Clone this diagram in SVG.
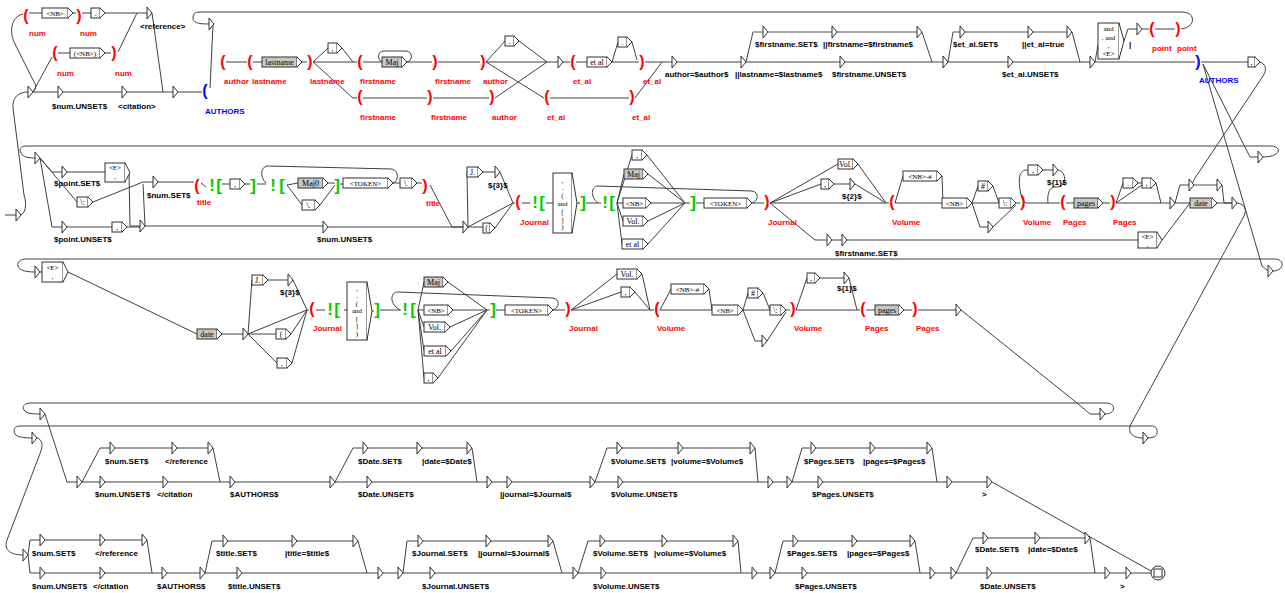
<svg xmlns="http://www.w3.org/2000/svg" width="1285" height="593" viewBox="0 0 1285 593">
<style>
.c{fill:none;stroke:#404040;stroke-width:1}
.cg{fill:none;stroke:#8c8c8c;stroke-width:1.5}
.b{fill:#fff;stroke:#303030;stroke-width:1}
.bg{fill:#c8c8c8;stroke:#303030;stroke-width:1}
.bt{font-family:"Liberation Serif",serif;font-size:8px;fill:#000;text-anchor:middle}
.bs{font-family:"Liberation Serif",serif;font-size:7px;fill:#000;text-anchor:middle}
.o{font-family:"Liberation Sans",Arial,sans-serif;font-size:8px;font-weight:bold;fill:#000}
.r{font-family:"Liberation Sans",Arial,sans-serif;font-size:8px;font-weight:bold;fill:#f00}
.u{font-family:"Liberation Sans",Arial,sans-serif;font-size:8px;font-weight:bold;fill:#0000ff}
.p{font-family:"Liberation Sans",Arial,sans-serif;font-size:16px;font-weight:bold;fill:#f00;text-anchor:middle}
.pu{font-family:"Liberation Sans",Arial,sans-serif;font-size:16px;font-weight:bold;fill:#0000ff;text-anchor:middle}
.gn{font-family:"Liberation Sans",Arial,sans-serif;font-size:17px;font-weight:bold;fill:#00cc00;text-anchor:middle}
</style>
<defs>
<path id="tri" d="M0,-6V6L5,0Z" fill="#fff" stroke="#303030" stroke-width="1"/>
</defs>
<rect width="1285" height="593" fill="#fff"/>
<g id="connectors">
<path class="c" d="M5,215H16 M21,215C27,212 26,200 24,195L13,108C12,98 18,92 28,92 M33,92C37,88 36,84 33,80L14,42C10,33 10,17 23,14 M33,92L52,57 M29,13H42 M73,13H76 M82,13H91 M105,13H147 M58,53H70 M105,53H111 M118,52L137,13 M152,13L163,92 M33,92H58 M63,92H122 M127,92H173 M178,92H202 M213,24L210,88 M226,62H247 M253,62H262 M302,62H307 M313,62L328,48 M313,62H357 M313,62L353,98H357 M342,48L353,62 M363,62H382 M407,62H432 M407,62C413,61 413,51 406,51H384C377,51 377,60 382,62 M363,98H427 M438,62H480 M433,98H489 M486,62L505,41 M486,62H558 M486,62L544,98 M519,41L547,62 M495,98L547,62 M563,62H570 M576,62H587 M612,62L618,42 M612,62H639 M632,42L637,60 M550,98H629 M635,98L662,62 M645,62H672 M677,62H741 M746,62L753,32 M922,32L932,62 M746,62H840 M845,62H943 M948,62L953,32 M1072,32L1080,62 M948,62H1008 M1013,62H1090 M1095,62L1098,45 M1124,41L1128,29H1137 M1142,29H1149 M1155,29H1175 M1181,29C1190,28 1194,22 1192,17C1190,13 1186,12 1180,12H200C194,12 193,15 193,18C193,22 196,24 209,24 M1095,62H1195 M1201,62H1248 M1203,64L1250,157H1258 M1203,64L1262,266L1268,271 M1260,62C1266,64 1267,70 1263,76L1195,178C1193,182 1192,185 1189,185"/>
<path class="cg" d="M753,32H763 M768,32H832 M837,32H917 M953,32H960 M965,32H1028 M1033,32H1067 M1194,185H1217"/>
<path class="c" d="M1263,157C1275,157 1280,152 1278,149C1276,146 1272,146 1268,146H26C20,146 19,150 21,153C23,157 28,158 35,158 M40,158L52,172H62 M40,158L77,202 M40,158L52,227H62 M67,172H105 M67,227H112 M129,172L130,226H140 M127,227H140 M93,202L143,182H153 M145,226L143,184 M145,226H323 M158,182H194 M201,183L206,187 M222,184H230 M245,184H250 M257,184H266 M287,185L298,183 M287,185L302,205 M328,183H335 M320,205L335,185 M340,184H343 M393,183H400 M393,183C399,181 399,171 392,169L268,166C261,166 259,176 266,183 M417,183H422 M430,185L452,227H463 M328,227H463 M468,227L467,172 M483,172H495 M500,172L513,203 M468,227L513,203 M468,227H483 M495,228L513,203 M513,203H515 M522,203H530 M546,203H553 M577,203H580 M586,203H601 M752,203C759,201 759,192 752,191L598,186C591,186 590,197 598,203 M617,203L632,155 M617,203L624,174 M617,203H623 M617,203L623,221 M617,203L622,244 M647,155L685,203 M648,174L685,203 M651,203H690 M648,221L685,203 M648,244L685,203 M696,203H704 M752,203H764 M770,203L838,164 M770,203L821,184 M770,203H889 M770,203L815,240H827 M858,164L886,203 M834,184H850 M855,184L886,203 M832,240H842 M847,240H1138 M895,203L903,176 M895,203H942 M942,176L943,203 M972,203L978,186 M972,203H999 M972,203L980,227H988 M993,186L999,203 M993,227L1016,205 M1016,203H1020 M1026,203H1060 M1026,203C1020,200 1018,180 1020,175C1022,170 1025,170 1028,170 M1043,170H1053 M1058,170C1068,172 1066,188 1056,187C1049,186 1047,195 1048,203 M1066,203H1074 M1103,203H1110 M1116,203L1123,183 M1116,203L1142,185 M1116,203H1170 M1138,183H1142 M1156,183L1161,203 M1175,203L1180,185H1189 M1222,185L1224,203H1232 M1175,203H1190 M1162,240L1190,203 M1217,203H1232 M1237,203C1245,204 1247,210 1244,216L1131,424C1127,432 1132,438 1143,438"/>
<path class="c" d="M1273,271C1280,271 1283,266 1282,263C1280,259 1277,259 1272,259H27C20,259 17,262 18,266C19,270 25,272 35,272 M40,272H42 M68,272L197,334 M222,334H243 M248,334L252,280 M268,280H288 M293,280L307,310 M248,334L307,310 M248,334H276 M291,334L307,310 M248,334L277,363 M292,363L307,310 M307,310H309 M316,310H325 M344,310H347 M372,311H374 M380,310H401 M553,310C560,308 560,299 553,298L398,292C390,292 389,304 400,310 M418,310L424,282 M418,310H424 M418,310L424,327 M418,310L424,351 M418,310L424,378 M448,282L487,310 M453,310H490 M450,327L487,310 M451,351L487,310 M438,378L487,310 M496,310H505 M553,310H565 M571,310L617,274 M571,310L621,292 M571,310H654 M642,274L650,310 M635,292L650,310 M660,310L671,289 M660,310H712 M709,289L712,310 M743,310L748,293 M743,310H770 M743,310L755,341H762 M763,293L770,310 M767,341L786,312 M786,310H790 M796,310L807,278 M796,310H860 M820,278H844 M849,278L857,310 M866,310H875 M904,310H912 M918,310H956 M961,310L1077,403L1090,414H1100"/>
<path class="c" d="M1105,414C1112,414 1115,410 1113,406C1111,403 1108,403 1104,403H30C24,403 22,407 24,410C26,413 30,414 40,414 M45,414L67,482H77 M1148,438C1156,438 1158,434 1157,430C1156,426 1153,426 1150,426H20C14,426 13,430 15,434C17,437 24,438 32,438 M37,438C42,439 43,445 41,451L7,540C4,548 8,555 23,555 M82,482L100,448H110 M115,448H172 M177,448H208 M213,448L220,482 M82,482H100 M105,482H163 M168,482H230 M235,482H330 M335,482L353,448H363 M368,448H417 M422,448H467 M472,448L477,482 M335,482H367 M372,482H487 M492,482H507 M512,482H590 M595,482L607,448H617 M622,448H678 M683,448H750 M755,448L758,482 M595,482H618 M623,482H768 M773,482H787 M792,482L802,448H811 M816,448H870 M875,448H927 M932,448L937,482 M792,482H818 M823,482H947 M952,482H987 M992,482L1151,571 M28,555L30,540H40 M45,540H100 M105,540H142 M147,540L152,573 M28,555L30,573H40 M45,573H100 M105,573H162 M167,573H200 M205,573L212,541H223 M228,541H292 M297,541H353 M358,541L367,573 M205,573H237 M242,573H378 M383,573H398 M403,573L407,541H418 M423,541H486 M491,541H548 M553,541L562,573 M403,573H430 M435,573H573 M578,573L588,541H600 M605,541H662 M667,541H733 M738,541L741,573 M578,573H601 M606,573H752 M757,573H770 M775,573L783,541H793 M798,541H852 M857,541H910 M915,541L920,573 M775,573H802 M807,573H930 M935,573H951 M956,573L973,538H983 M988,538H1035 M1040,538H1085 M1090,538L1095,573 M956,573H987 M992,573H1105 M1110,573H1126 M1131,573H1151"/>
</g>
<!-- Row 1 -->
<g id="init"><use href="#tri" x="16" y="215"/></g>
<g id="e1"><use href="#tri" x="28" y="92"/></g>
<g id="e2"><use href="#tri" x="58" y="92"/><text class="o" x="52" y="109">$num.UNSET$</text></g>
<g id="e3"><use href="#tri" x="122" y="92"/><text class="o" x="118" y="109">&lt;citation&gt;</text></g>
<g id="e4"><use href="#tri" x="147" y="13"/><text class="o" x="140" y="29">&lt;reference&gt;</text></g>
<g id="e5"><use href="#tri" x="173" y="92"/></g>
<g id="e6"><use href="#tri" x="209" y="24"/></g>
<g id="p1"><text class="p" x="26" y="21">(</text><text class="r" x="29" y="36">num</text></g>
<g id="b1"><rect class="b" x="42" y="8" width="26" height="10"/><path class="b" d="M68,8L73,13L68,18"/><text class="bs" x="55" y="16">&lt;NB&gt;</text></g>
<g id="p2"><text class="p" x="79" y="21">)</text><text class="r" x="80" y="36">num</text></g>
<g id="b2"><rect class="b" x="91" y="8" width="9" height="10"/><path class="b" d="M100,8L105,13L100,18"/><text class="bt" x="95.5" y="16">.</text></g>
<g id="p3"><text class="p" x="55" y="58">(</text><text class="r" x="57" y="76">num</text></g>
<g id="b3"><rect class="b" x="70" y="48" width="30" height="10"/><path class="b" d="M100,48L105,53L100,58"/><text class="bs" x="85" y="56">(&lt;NB&gt;)</text></g>
<g id="p4"><text class="p" x="114" y="58">)</text><text class="r" x="115" y="76">num</text></g>
<g id="p5"><text class="pu" x="205" y="96">(</text><text class="u" x="205" y="114">AUTHORS</text></g>
<g id="p6"><text class="p" x="223" y="67">(</text><text class="r" x="224" y="84">author</text></g>
<g id="p7"><text class="p" x="250" y="67">(</text><text class="r" x="252" y="84">lastname</text></g>
<g id="b4"><rect class="bg" x="262" y="57" width="35" height="10"/><path class="b" d="M297,57L302,62L297,67"/><text class="bt" x="279.5" y="65">lastname</text></g>
<g id="p8"><text class="p" x="310" y="67">)</text><text class="r" x="310" y="84">lastname</text></g>
<g id="b5"><rect class="b" x="328" y="43" width="9" height="10"/><path class="b" d="M337,43L342,48L337,53"/><text class="bt" x="332.5" y="51">,</text></g>
<g id="p9"><text class="p" x="360" y="67">(</text><text class="r" x="360" y="84">firstname</text></g>
<g id="b6"><rect class="bg" x="382" y="57" width="20" height="10"/><path class="b" d="M402,57L407,62L402,67"/><text class="bt" x="392" y="65">Maj</text></g>
<g id="p10"><text class="p" x="435" y="67">)</text><text class="r" x="435" y="84">firstname</text></g>
<g id="p11"><text class="p" x="360" y="102">(</text><text class="r" x="360" y="120">firstname</text></g>
<g id="p12"><text class="p" x="430" y="102">)</text><text class="r" x="431" y="120">firstname</text></g>
<g id="p13"><text class="p" x="483" y="67">)</text><text class="r" x="483" y="84">author</text></g>
<g id="p14"><text class="p" x="492" y="102">)</text><text class="r" x="492" y="120">author</text></g>
<g id="b7"><rect class="b" x="505" y="36" width="9" height="10"/><path class="b" d="M514,36L519,41L514,46"/><text class="bt" x="509.5" y="44">.</text></g>
<g id="e7"><use href="#tri" x="558" y="62"/></g>
<g id="p15"><text class="p" x="573" y="67">(</text><text class="r" x="573" y="84">et_al</text></g>
<g id="b8"><rect class="b" x="587" y="57" width="20" height="10"/><path class="b" d="M607,57L612,62L607,67"/><text class="bt" x="597" y="65">et al</text></g>
<g id="b9"><rect class="b" x="618" y="37" width="9" height="10"/><path class="b" d="M627,37L632,42L627,47"/><text class="bt" x="622.5" y="45">.</text></g>
<g id="p16"><text class="p" x="642" y="67">)</text><text class="r" x="643" y="84">et_al</text></g>
<g id="p17"><text class="p" x="547" y="102">(</text><text class="r" x="547" y="120">et_al</text></g>
<g id="p18"><text class="p" x="632" y="102">)</text><text class="r" x="632" y="120">et_al</text></g>
<g id="e8"><use href="#tri" x="672" y="62"/><text class="o" x="665" y="77">author=$author$</text></g>
<g id="e9"><use href="#tri" x="741" y="62"/><text class="o" x="735" y="77">||lastname=$lastname$</text></g>
<g id="e10"><use href="#tri" x="763" y="32"/><text class="o" x="755" y="47">$firstname.SET$</text></g>
<g id="e11"><use href="#tri" x="832" y="32"/><text class="o" x="823" y="47">||firstname=$firstname$</text></g>
<g id="e12"><use href="#tri" x="917" y="32"/></g>
<g id="e13"><use href="#tri" x="840" y="62"/><text class="o" x="832" y="77">$firstname.UNSET$</text></g>
<g id="e14"><use href="#tri" x="943" y="62"/></g>
<g id="e15"><use href="#tri" x="960" y="32"/><text class="o" x="953" y="47">$et_al.SET$</text></g>
<g id="e16"><use href="#tri" x="1028" y="32"/><text class="o" x="1022" y="47">||et_al=true</text></g>
<g id="e17"><use href="#tri" x="1067" y="32"/></g>
<g id="e18"><use href="#tri" x="1008" y="62"/><text class="o" x="1002" y="77">$et_al.UNSET$</text></g>
<g id="e19"><use href="#tri" x="1090" y="62"/></g>
<g id="b10"><rect class="b" x="1098" y="23" width="21" height="36"/><path class="b" d="M1119,23L1124,41L1119,59"/><text class="bs" x="1108.5" y="31">and</text><text class="bs" x="1108.5" y="40">, and</text><text class="bs" x="1108.5" y="48">,</text><text class="bs" x="1108.5" y="56">&lt;E&gt;</text></g>
<g id="e20"><use href="#tri" x="1137" y="29"/><text class="o" x="1129" y="47">|</text></g>
<g id="p19"><text class="p" x="1152" y="34">(</text><text class="r" x="1152" y="51">point</text></g>
<g id="p20"><text class="p" x="1178" y="34">)</text><text class="r" x="1177" y="51">point</text></g>
<g id="p21"><text class="pu" x="1198" y="67">)</text><text class="u" x="1199" y="83">AUTHORS</text></g>
<g id="b11"><rect class="b" x="1248" y="57" width="7" height="10"/><path class="b" d="M1255,57L1260,62L1255,67"/><text class="bt" x="1251.5" y="65">,</text></g>
<!-- Row 2 -->
<g id="e21"><use href="#tri" x="35" y="158"/></g>
<g id="e22"><use href="#tri" x="62" y="172"/><text class="o" x="54" y="186">$point.SET$</text></g>
<g id="e23"><use href="#tri" x="62" y="227"/><text class="o" x="54" y="242">$point.UNSET$</text></g>
<g id="b12"><rect class="b" x="105" y="163" width="20" height="19"/><path class="b" d="M125,163L130,172.5L125,182"/><text class="bs" x="115" y="170">&lt;E&gt;</text><text class="bs" x="115" y="179">,</text></g>
<g id="b13"><rect class="b" x="77" y="197" width="11" height="10"/><path class="b" d="M88,197L93,202L88,207"/><text class="bt" x="82.5" y="205">\:</text></g>
<g id="b14"><rect class="b" x="112" y="222" width="10" height="10"/><path class="b" d="M122,222L127,227L122,232"/><text class="bt" x="117" y="230">,</text></g>
<g id="e24"><use href="#tri" x="140" y="226"/></g>
<g id="e25"><use href="#tri" x="153" y="182"/><text class="o" x="147" y="198">$num.SET$</text></g>
<g id="e26"><use href="#tri" x="323" y="227"/><text class="o" x="317" y="242">$num.UNSET$</text></g>
<g id="p22"><text class="p" x="197" y="191">(</text><text class="r" x="197" y="205">title</text></g>
<g id="g1"><text class="gn" x="212" y="191">!</text><text class="gn" x="219" y="191">[</text></g>
<g id="b15"><rect class="b" x="230" y="179" width="10" height="10"/><path class="b" d="M240,179L245,184L240,189"/><text class="bt" x="235" y="187">,</text></g>
<g id="g2"><text class="gn" x="253" y="191">]</text></g>
<g id="g3"><text class="gn" x="273" y="191">!</text><text class="gn" x="282" y="191">[</text></g>
<g id="b16"><rect class="bg" x="298" y="178" width="25" height="10"/><path class="b" d="M323,178L328,183L323,188"/><text class="bt" x="310.5" y="186">Maj0</text></g>
<g id="b17"><rect class="b" x="302" y="200" width="13" height="10"/><path class="b" d="M315,200L320,205L315,210"/><text class="bt" x="308.5" y="208">\.</text></g>
<g id="g4"><text class="gn" x="337" y="191">]</text></g>
<g id="b18"><rect class="b" x="343" y="178" width="45" height="10"/><path class="b" d="M388,178L393,183L388,188"/><text class="bs" x="365.5" y="186">&lt;TOKEN&gt;</text></g>
<g id="b19"><rect class="b" x="400" y="178" width="12" height="10"/><path class="b" d="M412,178L417,183L412,188"/><text class="bt" x="406" y="186">\.</text></g>
<g id="p23"><text class="p" x="425" y="191">)</text><text class="r" x="426" y="206">title</text></g>
<g id="e27"><use href="#tri" x="463" y="227"/></g>
<g id="b20"><rect class="b" x="467" y="167" width="11" height="10"/><path class="b" d="M478,167L483,172L478,177"/><text class="bt" x="472.5" y="175">J.</text></g>
<g id="e28"><use href="#tri" x="495" y="172"/><text class="o" x="488" y="188">${3}$</text></g>
<g id="b21"><rect class="b" x="483" y="223" width="7" height="10"/><path class="b" d="M490,223L495,228L490,233"/><text class="bt" x="486.5" y="231">(</text></g>
<g id="p24"><text class="p" x="518" y="207">(</text><text class="r" x="520" y="225">Journal</text></g>
<g id="g5"><text class="gn" x="535" y="208">!</text><text class="gn" x="542" y="208">[</text></g>
<g id="b22"><rect class="b" x="553" y="173" width="19" height="60"/><path class="b" d="M572,173L577,203L572,233"/><text class="bs" x="562.5" y="182.5">,</text><text class="bs" x="562.5" y="190.3">.</text><text class="bs" x="562.5" y="198.1">(</text><text class="bs" x="562.5" y="205.9">and</text><text class="bs" x="562.5" y="213.7">[</text><text class="bs" x="562.5" y="221.5">]</text><text class="bs" x="562.5" y="229.3">)</text></g>
<g id="g6"><text class="gn" x="583" y="208">]</text></g>
<g id="g7"><text class="gn" x="605" y="208">!</text><text class="gn" x="612" y="208">[</text></g>
<g id="b23"><rect class="b" x="632" y="150" width="10" height="10"/><path class="b" d="M642,150L647,155L642,160"/><text class="bt" x="637" y="158">,</text></g>
<g id="b24"><rect class="bg" x="624" y="169" width="19" height="10"/><path class="b" d="M643,169L648,174L643,179"/><text class="bt" x="633.5" y="177">Maj</text></g>
<g id="b25"><rect class="b" x="623" y="198" width="23" height="10"/><path class="b" d="M646,198L651,203L646,208"/><text class="bs" x="634.5" y="206">&lt;NB&gt;</text></g>
<g id="b26"><rect class="b" x="623" y="216" width="20" height="10"/><path class="b" d="M643,216L648,221L643,226"/><text class="bt" x="633" y="224">Vol.</text></g>
<g id="b27"><rect class="b" x="622" y="239" width="21" height="10"/><path class="b" d="M643,239L648,244L643,249"/><text class="bt" x="632.5" y="247">et al</text></g>
<g id="g8"><text class="gn" x="693" y="208">]</text></g>
<g id="b28"><rect class="b" x="704" y="198" width="43" height="10"/><path class="b" d="M747,198L752,203L747,208"/><text class="bs" x="725.5" y="206">&lt;TOKEN&gt;</text></g>
<g id="p25"><text class="p" x="767" y="207">)</text><text class="r" x="768" y="225">Journal</text></g>
<g id="b29"><rect class="b" x="838" y="159" width="15" height="10"/><path class="b" d="M853,159L858,164L853,169"/><text class="bt" x="845.5" y="167">Vol.</text></g>
<g id="b30"><rect class="b" x="821" y="179" width="8" height="10"/><path class="b" d="M829,179L834,184L829,189"/><text class="bt" x="825" y="187">,</text></g>
<g id="e29"><use href="#tri" x="850" y="184"/><text class="o" x="842" y="199">${2}$</text></g>
<g id="e30"><use href="#tri" x="827" y="240"/></g>
<g id="e31"><use href="#tri" x="842" y="240"/><text class="o" x="835" y="256">$firstname.SET$</text></g>
<g id="p26"><text class="p" x="892" y="207">(</text><text class="r" x="892" y="225">Volume</text></g>
<g id="b31"><rect class="b" x="903" y="171" width="34" height="10"/><path class="b" d="M937,171L942,176L937,181"/><text class="bs" x="920" y="179">&lt;NB&gt;-#</text></g>
<g id="b32"><rect class="b" x="942" y="198" width="25" height="10"/><path class="b" d="M967,198L972,203L967,208"/><text class="bs" x="954.5" y="206">&lt;NB&gt;</text></g>
<g id="b33"><rect class="b" x="978" y="181" width="10" height="10"/><path class="b" d="M988,181L993,186L988,191"/><text class="bt" x="983" y="189">#</text></g>
<g id="b34"><rect class="b" x="999" y="198" width="12" height="10"/><path class="b" d="M1011,198L1016,203L1011,208"/><text class="bt" x="1005" y="206">\:</text></g>
<g id="e32"><use href="#tri" x="988" y="227"/></g>
<g id="p27"><text class="p" x="1023" y="207">)</text><text class="r" x="1023" y="225">Volume</text></g>
<g id="b35"><rect class="b" x="1028" y="165" width="10" height="10"/><path class="b" d="M1038,165L1043,170L1038,175"/><text class="bt" x="1033" y="173">,</text></g>
<g id="e33"><use href="#tri" x="1053" y="170"/><text class="o" x="1047" y="185">${1}$</text></g>
<g id="p28"><text class="p" x="1063" y="207">(</text><text class="r" x="1063" y="225">Pages</text></g>
<g id="b36"><rect class="bg" x="1074" y="198" width="24" height="10"/><path class="b" d="M1098,198L1103,203L1098,208"/><text class="bt" x="1086" y="206">pages</text></g>
<g id="p29"><text class="p" x="1113" y="207">)</text><text class="r" x="1113" y="225">Pages</text></g>
<g id="b37"><rect class="b" x="1123" y="178" width="10" height="10"/><path class="b" d="M1133,178L1138,183L1133,188"/><text class="bt" x="1128" y="186">.</text></g>
<g id="b38"><rect class="b" x="1142" y="178" width="9" height="10"/><path class="b" d="M1151,178L1156,183L1151,188"/><text class="bt" x="1146.5" y="186">,</text></g>
<g id="b39"><rect class="b" x="1138" y="232" width="19" height="16"/><path class="b" d="M1157,232L1162,240L1157,248"/><text class="bs" x="1147.5" y="239">&lt;E&gt;</text><text class="bs" x="1147.5" y="247">,</text></g>
<g id="e34"><use href="#tri" x="1170" y="203"/></g>
<g id="e35"><use href="#tri" x="1189" y="185"/></g>
<g id="e36"><use href="#tri" x="1217" y="185"/></g>
<g id="b40"><rect class="bg" x="1190" y="198" width="22" height="10"/><path class="b" d="M1212,198L1217,203L1212,208"/><text class="bt" x="1201" y="206">date</text></g>
<g id="e37"><use href="#tri" x="1232" y="203"/></g>
<g id="e38"><use href="#tri" x="1258" y="157"/></g>
<!-- Row 3 -->
<g id="e39"><use href="#tri" x="35" y="272"/></g>
<g id="b41"><rect class="b" x="42" y="262" width="21" height="20"/><path class="b" d="M63,262L68,272L63,282"/><text class="bs" x="52.5" y="270">&lt;E&gt;</text><text class="bs" x="52.5" y="279">,</text></g>
<g id="b42"><rect class="bg" x="197" y="329" width="20" height="10"/><path class="b" d="M217,329L222,334L217,339"/><text class="bt" x="207" y="337">date</text></g>
<g id="e40"><use href="#tri" x="243" y="334"/></g>
<g id="b43"><rect class="b" x="252" y="275" width="11" height="10"/><path class="b" d="M263,275L268,280L263,285"/><text class="bt" x="257.5" y="283">J.</text></g>
<g id="e41"><use href="#tri" x="288" y="280"/><text class="o" x="280" y="295">${3}$</text></g>
<g id="b44"><rect class="b" x="276" y="329" width="10" height="10"/><path class="b" d="M286,329L291,334L286,339"/><text class="bt" x="281" y="337">(</text></g>
<g id="b45"><rect class="b" x="277" y="358" width="10" height="10"/><path class="b" d="M287,358L292,363L287,368"/><text class="bt" x="282" y="366">,</text></g>
<g id="p30"><text class="p" x="312" y="314">(</text><text class="r" x="313" y="331">Journal</text></g>
<g id="g9"><text class="gn" x="330" y="315">!</text><text class="gn" x="337" y="315">[</text></g>
<g id="b46"><rect class="b" x="347" y="282" width="20" height="58"/><path class="b" d="M367,282L372,311L367,340"/><text class="bs" x="357" y="290.5">,</text><text class="bs" x="357" y="298">.</text><text class="bs" x="357" y="305.5">(</text><text class="bs" x="357" y="313">and</text><text class="bs" x="357" y="320.5">[</text><text class="bs" x="357" y="328">]</text><text class="bs" x="357" y="335.5">)</text></g>
<g id="g10"><text class="gn" x="377" y="315">]</text></g>
<g id="g11"><text class="gn" x="405" y="315">!</text><text class="gn" x="413" y="315">[</text></g>
<g id="b47"><rect class="bg" x="424" y="277" width="19" height="10"/><path class="b" d="M443,277L448,282L443,287"/><text class="bt" x="433.5" y="285">Maj</text></g>
<g id="b48"><rect class="b" x="424" y="305" width="24" height="10"/><path class="b" d="M448,305L453,310L448,315"/><text class="bs" x="436" y="313">&lt;NB&gt;</text></g>
<g id="b49"><rect class="b" x="424" y="322" width="21" height="10"/><path class="b" d="M445,322L450,327L445,332"/><text class="bt" x="434.5" y="330">Vol.</text></g>
<g id="b50"><rect class="b" x="424" y="346" width="22" height="10"/><path class="b" d="M446,346L451,351L446,356"/><text class="bt" x="435" y="354">et al</text></g>
<g id="b51"><rect class="b" x="424" y="373" width="9" height="10"/><path class="b" d="M433,373L438,378L433,383"/><text class="bt" x="428.5" y="381">,</text></g>
<g id="g12"><text class="gn" x="493" y="315">]</text></g>
<g id="b52"><rect class="b" x="505" y="305" width="43" height="10"/><path class="b" d="M548,305L553,310L548,315"/><text class="bs" x="526.5" y="313">&lt;TOKEN&gt;</text></g>
<g id="p31"><text class="p" x="568" y="314">)</text><text class="r" x="569" y="331">Journal</text></g>
<g id="b53"><rect class="b" x="617" y="269" width="20" height="10"/><path class="b" d="M637,269L642,274L637,279"/><text class="bt" x="627" y="277">Vol.</text></g>
<g id="b54"><rect class="b" x="621" y="287" width="9" height="10"/><path class="b" d="M630,287L635,292L630,297"/><text class="bt" x="625.5" y="295">,</text></g>
<g id="p32"><text class="p" x="657" y="314">(</text><text class="r" x="657" y="331">Volume</text></g>
<g id="b55"><rect class="b" x="671" y="284" width="33" height="10"/><path class="b" d="M704,284L709,289L704,294"/><text class="bs" x="687.5" y="292">&lt;NB&gt;-#</text></g>
<g id="b56"><rect class="b" x="712" y="305" width="26" height="10"/><path class="b" d="M738,305L743,310L738,315"/><text class="bs" x="725" y="313">&lt;NB&gt;</text></g>
<g id="b57"><rect class="b" x="748" y="288" width="10" height="10"/><path class="b" d="M758,288L763,293L758,298"/><text class="bt" x="753" y="296">#</text></g>
<g id="b58"><rect class="b" x="770" y="305" width="11" height="10"/><path class="b" d="M781,305L786,310L781,315"/><text class="bt" x="775.5" y="313">\:</text></g>
<g id="e42"><use href="#tri" x="762" y="341"/></g>
<g id="p33"><text class="p" x="793" y="314">)</text><text class="r" x="794" y="331">Volume</text></g>
<g id="b59"><rect class="b" x="807" y="273" width="8" height="10"/><path class="b" d="M815,273L820,278L815,283"/><text class="bt" x="811" y="281">,</text></g>
<g id="e43"><use href="#tri" x="844" y="278"/><text class="o" x="837" y="291">${1}$</text></g>
<g id="p34"><text class="p" x="863" y="314">(</text><text class="r" x="865" y="331">Pages</text></g>
<g id="b60"><rect class="bg" x="875" y="305" width="24" height="10"/><path class="b" d="M899,305L904,310L899,315"/><text class="bt" x="887" y="313">pages</text></g>
<g id="p35"><text class="p" x="915" y="314">)</text><text class="r" x="916" y="331">Pages</text></g>
<g id="e44"><use href="#tri" x="956" y="310"/></g>
<g id="e45"><use href="#tri" x="1268" y="271"/></g>
<!-- Row 4 -->
<g id="e46"><use href="#tri" x="1100" y="414"/></g>
<g id="e47"><use href="#tri" x="40" y="414"/></g>
<g id="e48"><use href="#tri" x="1143" y="438"/></g>
<g id="e49"><use href="#tri" x="32" y="438"/></g>
<g id="a1"><use href="#tri" x="77" y="482"/></g>
<g id="a2"><use href="#tri" x="110" y="448"/><text class="o" x="105" y="464">$num.SET$</text></g>
<g id="a3"><use href="#tri" x="172" y="448"/><text class="o" x="165" y="464">&lt;/reference</text></g>
<g id="a4"><use href="#tri" x="208" y="448"/></g>
<g id="a5"><use href="#tri" x="100" y="482"/><text class="o" x="95" y="497">$num.UNSET$</text></g>
<g id="a6"><use href="#tri" x="163" y="482"/><text class="o" x="157" y="497">&lt;/citation</text></g>
<g id="a7"><use href="#tri" x="230" y="482"/><text class="o" x="230" y="497">$AUTHORS$</text></g>
<g id="a8"><use href="#tri" x="330" y="482"/></g>
<g id="a9"><use href="#tri" x="363" y="448"/><text class="o" x="358" y="464">$Date.SET$</text></g>
<g id="a10"><use href="#tri" x="417" y="448"/><text class="o" x="422" y="464">|date=$Date$</text></g>
<g id="a11"><use href="#tri" x="467" y="448"/></g>
<g id="a12"><use href="#tri" x="367" y="482"/><text class="o" x="358" y="497">$Date.UNSET$</text></g>
<g id="a13"><use href="#tri" x="487" y="482"/></g>
<g id="a14"><use href="#tri" x="507" y="482"/><text class="o" x="500" y="497">|journal=$Journal$</text></g>
<g id="a15"><use href="#tri" x="590" y="482"/></g>
<g id="a16"><use href="#tri" x="617" y="448"/><text class="o" x="611" y="464">$Volume.SET$</text></g>
<g id="a17"><use href="#tri" x="678" y="448"/><text class="o" x="671" y="464">|volume=$Volume$</text></g>
<g id="a18"><use href="#tri" x="750" y="448"/></g>
<g id="a19"><use href="#tri" x="618" y="482"/><text class="o" x="611" y="497">$Volume.UNSET$</text></g>
<g id="a20"><use href="#tri" x="768" y="482"/></g>
<g id="a21"><use href="#tri" x="787" y="482"/></g>
<g id="a22"><use href="#tri" x="811" y="448"/><text class="o" x="804" y="464">$Pages.SET$</text></g>
<g id="a23"><use href="#tri" x="870" y="448"/><text class="o" x="863" y="464">|pages=$Pages$</text></g>
<g id="a24"><use href="#tri" x="927" y="448"/></g>
<g id="a25"><use href="#tri" x="818" y="482"/><text class="o" x="812" y="497">$Pages.UNSET$</text></g>
<g id="a26"><use href="#tri" x="947" y="482"/></g>
<g id="a27"><use href="#tri" x="987" y="482"/><text class="o" x="982" y="497">&gt;</text></g>
<g id="c1"><use href="#tri" x="23" y="555"/></g>
<g id="c2"><use href="#tri" x="40" y="540"/><text class="o" x="32" y="556">$num.SET$</text></g>
<g id="c3"><use href="#tri" x="100" y="540"/><text class="o" x="95" y="556">&lt;/reference</text></g>
<g id="c4"><use href="#tri" x="142" y="540"/></g>
<g id="c5"><use href="#tri" x="40" y="573"/><text class="o" x="32" y="589">$num.UNSET$</text></g>
<g id="c6"><use href="#tri" x="100" y="573"/><text class="o" x="93" y="589">&lt;/citation</text></g>
<g id="c7"><use href="#tri" x="162" y="573"/><text class="o" x="157" y="589">$AUTHORS$</text></g>
<g id="c8"><use href="#tri" x="200" y="573"/></g>
<g id="c9"><use href="#tri" x="223" y="541"/><text class="o" x="216" y="556">$title.SET$</text></g>
<g id="c10"><use href="#tri" x="292" y="541"/><text class="o" x="285" y="556">|title=$title$</text></g>
<g id="c11"><use href="#tri" x="353" y="541"/></g>
<g id="c12"><use href="#tri" x="237" y="573"/><text class="o" x="228" y="589">$title.UNSET$</text></g>
<g id="c13"><use href="#tri" x="378" y="573"/></g>
<g id="c14"><use href="#tri" x="398" y="573"/></g>
<g id="c15"><use href="#tri" x="418" y="541"/><text class="o" x="412" y="556">$Journal.SET$</text></g>
<g id="c16"><use href="#tri" x="486" y="541"/><text class="o" x="478" y="556">|journal=$Journal$</text></g>
<g id="c17"><use href="#tri" x="548" y="541"/></g>
<g id="c18"><use href="#tri" x="430" y="573"/><text class="o" x="422" y="589">$Journal.UNSET$</text></g>
<g id="c19"><use href="#tri" x="573" y="573"/></g>
<g id="c20"><use href="#tri" x="600" y="541"/><text class="o" x="593" y="556">$Volume.SET$</text></g>
<g id="c21"><use href="#tri" x="662" y="541"/><text class="o" x="654" y="556">|volume=$Volume$</text></g>
<g id="c22"><use href="#tri" x="733" y="541"/></g>
<g id="c23"><use href="#tri" x="601" y="573"/><text class="o" x="593" y="589">$Volume.UNSET$</text></g>
<g id="c24"><use href="#tri" x="752" y="573"/></g>
<g id="c25"><use href="#tri" x="770" y="573"/></g>
<g id="c26"><use href="#tri" x="793" y="541"/><text class="o" x="787" y="556">$Pages.SET$</text></g>
<g id="c27"><use href="#tri" x="852" y="541"/><text class="o" x="847" y="556">|pages=$Pages$</text></g>
<g id="c28"><use href="#tri" x="910" y="541"/></g>
<g id="c29"><use href="#tri" x="802" y="573"/><text class="o" x="795" y="589">$Pages.UNSET$</text></g>
<g id="c30"><use href="#tri" x="930" y="573"/></g>
<g id="c31"><use href="#tri" x="951" y="573"/></g>
<g id="c32"><use href="#tri" x="983" y="538"/><text class="o" x="975" y="552">$Date.SET$</text></g>
<g id="c33"><use href="#tri" x="1035" y="538"/><text class="o" x="1028" y="552">|date=$Date$</text></g>
<g id="c34"><use href="#tri" x="1085" y="538"/></g>
<g id="c35"><use href="#tri" x="987" y="573"/><text class="o" x="980" y="589">$Date.UNSET$</text></g>
<g id="c36"><use href="#tri" x="1105" y="573"/></g>
<g id="c37"><use href="#tri" x="1126" y="573"/><text class="o" x="1120" y="589">&gt;</text></g>
<g id="final"><circle cx="1158" cy="573" r="7" fill="#fff" stroke="#303030"/><rect x="1154" y="569" width="8" height="8" fill="none" stroke="#303030"/></g>
</svg>
